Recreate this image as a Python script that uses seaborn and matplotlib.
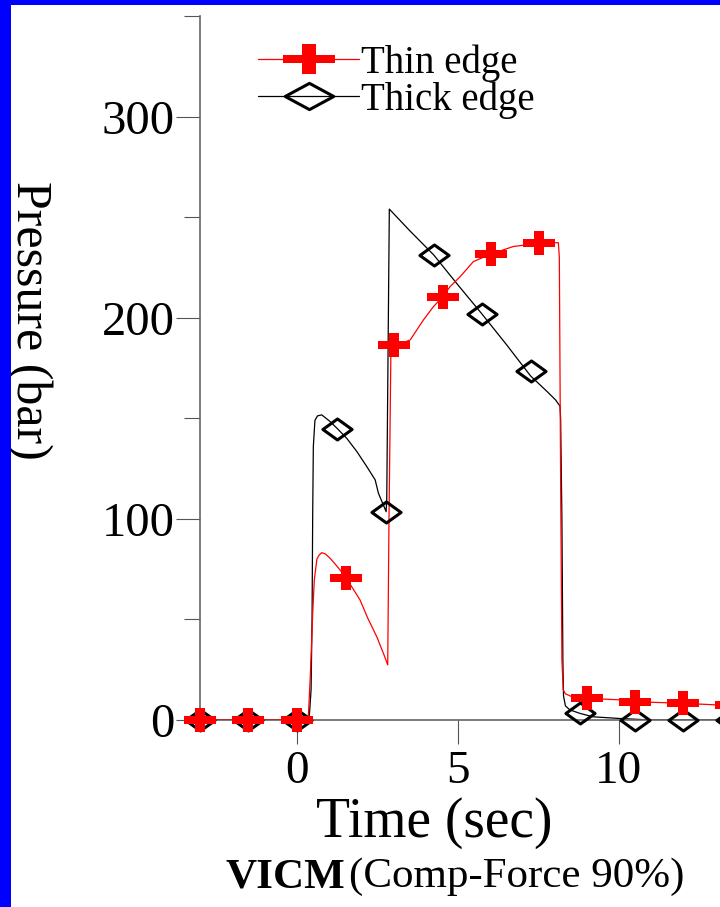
import matplotlib
matplotlib.use("Agg")
import numpy as np
import pandas as pd
import matplotlib.pyplot as plt
import seaborn as sns
from matplotlib.path import Path
from matplotlib.lines import Line2D
from matplotlib.patches import Rectangle

# ---------------- data ----------------
series_labels = ["Thin edge", "Thick edge"]

thin_t = [-3, 0.35, 0.37, 0.42, 0.47, 0.50, 0.55, 0.63, 0.70, 0.78, 0.90, 1.04, 1.20,
          1.35, 1.54, 1.71, 1.97, 2.20, 2.49, 2.70, 2.83, 2.87, 2.93, 3.04, 3.30, 3.53,
          3.94, 4.25, 4.54, 4.77, 5.08, 5.49, 6.03, 6.73, 7.53, 8.13, 8.16, 8.20, 8.24,
          8.28, 8.35, 8.55, 9.01, 10.05, 10.5, 12.0, 13.05, 13.5]
thin_p = [0, 0, 3.5, 20, 40, 53, 69.6, 80, 82, 83.2, 82.5, 80.4, 77.5,
          74.6, 70.6, 66.3, 59.7, 51, 41.4, 33, 27.4, 100, 185, 186.6, 187.5, 189,
          198.9, 205.5, 210.5, 215.5, 220.4, 227.9, 231.6, 235.4, 237.0, 237.3, 230, 120, 30,
          15, 13, 11.6, 10.8, 10.0, 9.1, 8.3, 7.5, 7.3]

thick_t = [-3, 0.36, 0.40, 0.45, 0.48, 0.50, 0.52, 0.57, 0.65, 0.78, 1.04, 1.27, 1.56,
           1.87, 2.18, 2.44, 2.54, 2.65, 2.78, 2.80, 2.88, 3.50, 4.26, 5.00, 5.77, 6.50,
           7.27, 7.80, 8.05, 8.18, 8.20, 8.24, 8.27, 8.29, 8.35, 8.49, 8.80, 9.20, 9.98,
           10.5, 11.0, 13.5]
thick_p = [0, 0, 3, 15, 50, 102.8, 136, 149, 151.2, 151.7, 148.4, 144.8, 140,
           133.5, 126, 119.4, 112.8, 108.6, 103.6, 110, 254, 243.5, 231.2, 216.5, 201.6, 187,
           171, 163, 159, 156, 150, 100, 30, 12, 7, 5, 3.3, 1.6, 0.8,
           0.4, 0, 0]

thin_mark_t = [-3, -1.5, 0, 1.54, 3.04, 4.54, 6.03, 7.53, 9.01, 10.5, 12.0, 13.5]
thin_mark_p = [0, 0, 0, 70.6, 186.6, 210.5, 231.6, 237.0, 10.8, 9.1, 8.3, 7.3]

thick_mark_t = [-3, -1.5, 0, 1.27, 2.78, 4.26, 5.77, 7.27, 8.80, 10.5, 12.0, 13.5]
thick_mark_p = [0, 0, 0, 144.8, 103.6, 231.2, 201.6, 173.5, 3.3, 0, 0, 0]

x_ticks = [0, 5, 10]
y_ticks = [0, 100, 200, 300]
y_minor_ticks = [50, 150, 250, 350]
x_label = "Time (sec)"
y_label = "Pressure (bar)"
caption_bold = "VICM"
caption_rest = "(Comp-Force 90%)"

# ---------------- style ----------------
sns.set_style("ticks")
plt.rcParams["font.family"] = ["Liberation Serif", "DejaVu Serif"]
plt.rcParams["text.color"] = "black"
plt.rcParams["axes.labelcolor"] = "black"


def plus_path(h, th, tv):
    verts = [(-1, -th), (-tv, -th), (-tv, -h), (tv, -h), (tv, -th), (1, -th),
             (1, th), (tv, th), (tv, h), (-tv, h), (-tv, th), (-1, th), (-1, -th)]
    codes = [Path.MOVETO] + [Path.LINETO] * 11 + [Path.CLOSEPOLY]
    return Path(verts, codes)


def diamond_path(h):
    verts = [(-1, 0), (0, -h), (1, 0), (0, h), (-1, 0)]
    codes = [Path.MOVETO] + [Path.LINETO] * 3 + [Path.CLOSEPOLY]
    return Path(verts, codes)


cross_plot = plus_path(0.73, 0.25, 0.33)
diam_plot = diamond_path(0.72)
cross_leg = plus_path(0.55, 0.17, 0.26)
diam_leg = diamond_path(0.54)

W, H = 720, 907
fig = plt.figure(figsize=(W / 100, H / 100), dpi=100)
fig.patch.set_facecolor("white")
ax = fig.add_axes([200 / W, 1 - 720 / H, 520 / W, 704 / H])
ax.set_facecolor("white")

# curves
sns.lineplot(x=thick_t, y=thick_p, ax=ax, color="black", lw=0.9,
             estimator=None, sort=False, zorder=2.5)
sns.lineplot(x=thin_t, y=thin_p, ax=ax, color="red", lw=0.9,
             estimator=None, sort=False, zorder=3)

# markers
sns.lineplot(x=thick_mark_t, y=thick_mark_p, ax=ax, linestyle="none",
             marker=diam_plot, markersize=21, markerfacecolor="none",
             markeredgecolor="black", markeredgewidth=2.2, color="black",
             estimator=None, sort=False, clip_on=False, zorder=3.5)
sns.lineplot(x=thin_mark_t, y=thin_mark_p, ax=ax, linestyle="none",
             marker=cross_plot, markersize=23, markerfacecolor="red",
             markeredgecolor="red", markeredgewidth=0, color="red",
             estimator=None, sort=False, clip_on=False, zorder=4)

ax.set_xlim(-3, 13.15)
ax.set_ylim(0, 350)
ax.set_xticks(x_ticks)
ax.set_xticklabels([str(v) for v in x_ticks])
ax.set_yticks(y_ticks)
ax.set_yticklabels([str(v) for v in y_ticks])
ax.set_yticks(y_minor_ticks, minor=True)

tick_col = "#555555"
ax.tick_params(axis="y", which="major", direction="out", left=True, length=17.3,
               width=0.8, color=tick_col, pad=1, labelsize=35, labelcolor="black")
ax.tick_params(axis="y", which="minor", direction="out", left=True, length=11.5,
               width=0.8, color=tick_col)
ax.tick_params(axis="x", which="major", direction="out", bottom=True, length=17.3,
               width=0.8, color=tick_col, pad=5, labelsize=34, labelcolor="black")
ax.tick_params(axis="x", which="minor", bottom=False)

sns.despine(ax=ax)
for s in ("left", "bottom"):
    ax.spines[s].set_color("#666666")
    ax.spines[s].set_linewidth(1.2)

ax.set_ylabel(y_label, fontsize=36, rotation=270, va="center", ha="center",
              color="black")
ax.yaxis.set_label_coords((29 - 200) / 520, (720 - 320) / 704)
ax.set_xlabel(x_label, fontsize=40, va="baseline", ha="center", color="black")
ax.xaxis.set_label_coords((434 - 200) / 520, (720 - 837) / 704)

fig.text(345 / W, 1 - 887 / H, caption_bold, fontsize=31, fontweight="bold",
         ha="right", va="baseline", color="black")
fig.text(349 / W, 1 - 887 / H, caption_rest, fontsize=31,
         ha="left", va="baseline", color="black")

handles = [
    Line2D([0], [0], color="red", lw=0.9, marker=cross_leg, markersize=38,
           markerfacecolor="red", markeredgewidth=0),
    Line2D([0], [0], color="black", lw=0.9, marker=diam_leg, markersize=35,
           markerfacecolor="none", markeredgecolor="black", markeredgewidth=2.2),
]
leg = ax.legend(handles, series_labels, loc="upper left",
                bbox_to_anchor=(258 / W, 1 - 44 / H), bbox_transform=fig.transFigure,
                frameon=False, fontsize=28, handlelength=2.6, handletextpad=0.05,
                labelspacing=0.0, borderpad=0, borderaxespad=0, numpoints=1)
for t in leg.get_texts():
    t.set_color("black")

# blue frame of the original slide
fig.add_artist(Rectangle((0, 0), 11 / W, 1, transform=fig.transFigure,
                         color="#0000ff", zorder=20, lw=0))
fig.add_artist(Rectangle((0, 1 - 5 / H), 1, 5 / H, transform=fig.transFigure,
                         color="#0000ff", zorder=20, lw=0))

fig.savefig("out.png", dpi=100)
